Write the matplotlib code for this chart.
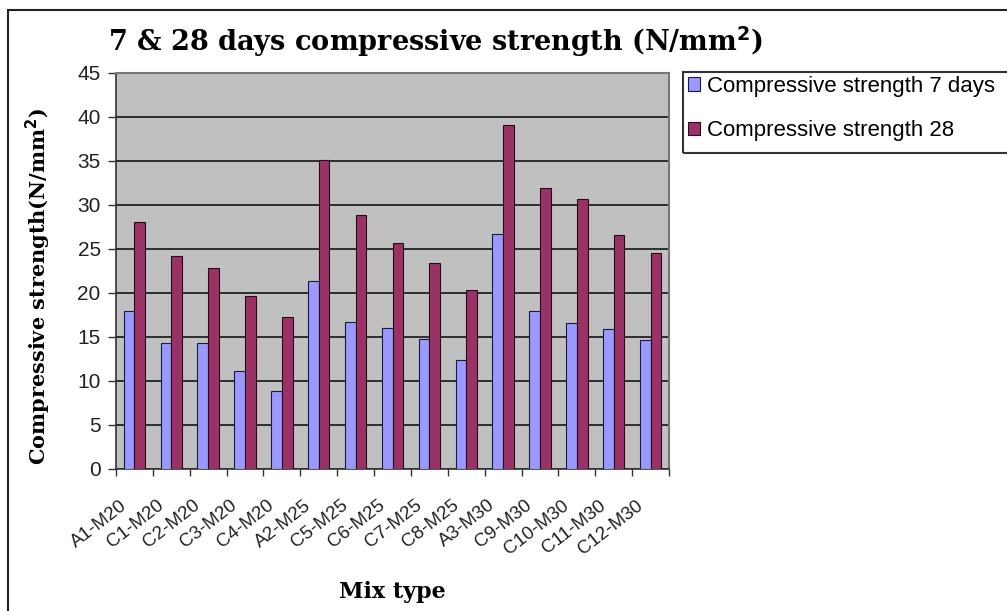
import numpy as np
import matplotlib
matplotlib.use("Agg")
import matplotlib.pyplot as plt
from matplotlib.patches import Rectangle, Patch
from matplotlib.transforms import ScaledTranslation

# mix designations and measured strengths (N/mm2)
mixes = ["A1-M20", "C1-M20", "C2-M20", "C3-M20", "C4-M20",
         "A2-M25", "C5-M25", "C6-M25", "C7-M25", "C8-M25",
         "A3-M30", "C9-M30", "C10-M30", "C11-M30", "C12-M30"]
strength_7 = [17.9, 14.3, 14.3, 11.1, 8.9,
              21.3, 16.7, 16.0, 14.8, 12.4,
              26.7, 17.9, 16.6, 15.9, 14.7]
strength_28 = [28.0, 24.2, 22.8, 19.6, 17.3,
               35.1, 28.8, 25.7, 23.4, 20.3,
               39.1, 31.9, 30.7, 26.6, 24.5]

blue = "#9999FF"
plum = "#993366"
serif = ["DejaVu Serif"]
sans = ["Liberation Sans", "DejaVu Sans"]

fig = plt.figure(figsize=(10.07, 6.11), dpi=100)
ax = fig.add_axes([116 / 1007, 1 - 469 / 611, 553 / 1007, (469 - 72.7) / 611])

x = np.arange(len(mixes))
w = 0.29
ax.bar(x - w / 2, strength_7, w, color=blue, edgecolor="#1a1a40", linewidth=0.8, zorder=3)
ax.bar(x + w / 2, strength_28, w, color=plum, edgecolor="#2a0a18", linewidth=0.8, zorder=3)

ax.set_facecolor("#C0C0C0")
ax.set_xlim(-0.5, len(mixes) - 0.5)
ax.set_ylim(0, 45)
ax.set_yticks(range(0, 46, 5))
ax.yaxis.grid(True, color="#222222", linewidth=1.3, zorder=1)
ax.set_axisbelow(True)

# category boundaries carry the tick marks, labels sit near the centres
ax.set_xticks(np.arange(-0.5, len(mixes)), minor=True)
ax.set_xticks(x)
ax.set_xticklabels(mixes, rotation=38, ha="right", va="top", rotation_mode="anchor",
                   family=sans, fontsize=13.5)
ax.tick_params(axis="x", which="major", length=0, pad=20)
ax.tick_params(axis="x", which="minor", length=5, width=1, direction="out", color="#333333")
ax.tick_params(axis="y", length=6, width=1, color="#333333", labelsize=15, pad=5)
for lbl in ax.get_yticklabels():
    lbl.set_family(sans)
    lbl.set_color("#222222")
shift = ScaledTranslation(-15 / 100, 0, fig.dpi_scale_trans)
for lbl in ax.get_xticklabels():
    lbl.set_transform(lbl.get_transform() + shift)
    lbl.set_color("#222222")

for side in ["top", "right"]:
    ax.spines[side].set_color("#777777")
    ax.spines[side].set_linewidth(1.5)
for side in ["left", "bottom"]:
    ax.spines[side].set_color("#333333")
    ax.spines[side].set_linewidth(1.2)

ax.set_ylabel("Compressive strength(N/mm$\\mathbf{^2}$)", family=serif, fontweight="bold",
              fontsize=15)
ax.yaxis.set_label_coords(-0.114, 0.46)
ax.set_xlabel("Mix type", family=serif, fontweight="bold", fontsize=16)
ax.xaxis.set_label_coords(0.5, -0.283)

fig.text(108 / 1007, 1 - 42 / 611, "7 & 28 days compressive strength (N/mm$\\mathbf{^2}$)",
         family=serif, fontweight="bold", fontsize=19.5, va="center", ha="left")

# outer chart border and legend frame
fig.add_artist(Rectangle((8 / 1007, -0.1), 1.2, 1.1 - 10 / 611, transform=fig.transFigure,
                         fill=False, edgecolor="#222222", linewidth=1.5))
fig.add_artist(Rectangle((683 / 1007, 1 - 153 / 611), 0.5, 81 / 611, transform=fig.transFigure,
                         fill=False, edgecolor="#333333", linewidth=1.5))

handles = [Patch(facecolor=blue, edgecolor="#1a1a40", linewidth=0.8),
           Patch(facecolor=plum, edgecolor="#2a0a18", linewidth=0.8)]
fig.legend(handles, ["Compressive strength 7 days", "Compressive strength 28"],
           loc="upper left", bbox_to_anchor=(684 / 1007, 1 - 72 / 611), frameon=False,
           prop={"family": sans, "size": 16}, handlelength=0.55, handleheight=0.55,
           handletextpad=0.3, labelspacing=1.05, borderaxespad=0, borderpad=0.18)

fig.savefig("out.png", dpi=100)
